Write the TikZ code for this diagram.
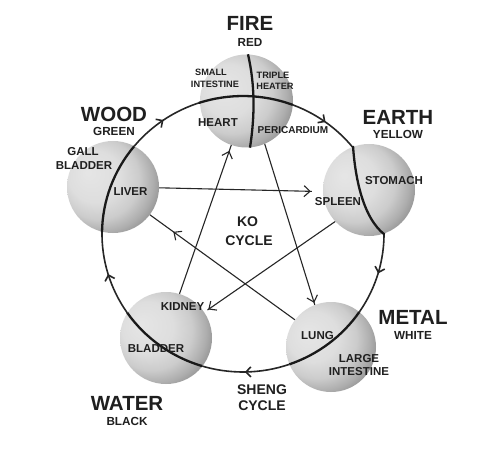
\documentclass[tikz,border=0pt]{standalone}
\usepackage{fontspec}
\setmainfont{Liberation Sans}
\usetikzlibrary{arrows.meta,decorations.markings,calc}
\pgfdeclareradialshading{sphereshade}{\pgfpoint{-14bp}{8bp}}{color(0bp)=(black!10); color(14bp)=(black!13); color(22bp)=(black!20); color(28bp)=(black!32); color(34bp)=(black!48); color(50bp)=(black!48)}
\begin{document}
\begin{tikzpicture}[x=1pt,y=1pt,
 txt/.style={text=black!88, inner sep=0pt},
 elem/.style={txt, font=\fontsize{20.5}{22}\selectfont\bfseries},
 colr/.style={txt, font=\fontsize{11.7}{13}\selectfont\bfseries},
 organ/.style={txt, font=\fontsize{11.5}{13}\selectfont\bfseries},
 smallorgan/.style={txt, font=\fontsize{9.2}{11}\selectfont\bfseries},
 peri/.style={txt, font=\fontsize{10}{12}\selectfont\bfseries},
 cyc/.style={txt, font=\fontsize{14}{16}\selectfont\bfseries},
 sphere/.style={circle, minimum size=#1, inner sep=0pt},
 sheng/.style={line width=1.6pt, draw=black!85, postaction={decorate},
   decoration={markings, mark=at position 0.5 with {\arrow{Straight Barb[length=5pt,width=10pt]}}}},
 ko/.style={line width=1.1pt, draw=black!85, postaction={decorate},
   decoration={markings, mark=at position #1 with {\arrow{Straight Barb[length=6pt,width=11pt]}}}},
 divline/.style={line width=2.3pt, draw=black!90}
]
\useasboundingbox (0,0) rectangle (504,475);
\fill[white] (0,0) rectangle (504,475);
\coordinate (c) at (243,241);

% sphere nodes (positions)
\node[sphere=93pt] (fire)  at (246.5,374) {};
\node[sphere=92pt] (wood)  at (113,288) {};
\node[sphere=92pt] (earth) at (369,285) {};
\node[sphere=90pt] (metal) at (331,128) {};
\node[sphere=92pt] (water) at (166,137) {};

% sheng cycle arcs
\draw[sheng] ([shift={(160:141pt and 138pt)}]c) arc[start angle=160, end angle=89, x radius=141pt, y radius=138pt];
\draw[sheng] ([shift={(89:141pt and 138pt)}]c) arc[start angle=89, end angle=19, x radius=141pt, y radius=138pt];
\draw[sheng] ([shift={(19:141pt and 138pt)}]c) arc[start angle=19, end angle=-52, x radius=141pt, y radius=138pt];
\draw[sheng] ([shift={(-52:141pt and 138pt)}]c) arc[start angle=-52, end angle=-126.5, x radius=141pt, y radius=138pt];
\draw[sheng] ([shift={(-126.5:141pt and 138pt)}]c) arc[start angle=-126.5, end angle=-200, x radius=141pt, y radius=138pt];

% sphere shading
\shade[shading=sphereshade] (fire.center) circle[radius=46.5pt];
\shade[shading=sphereshade] (wood.center) circle[radius=46pt];
\shade[shading=sphereshade] (earth.center) circle[radius=46pt];
\shade[shading=sphereshade] (metal.center) circle[radius=45pt];
\shade[shading=sphereshade] (water.center) circle[radius=46pt];

% thick dividers inside spheres (parts of the big circle)
\draw[divline] ([shift={(69.3:141pt and 138pt)}]c) arc[start angle=69.3, end angle=108.2, x radius=141pt, y radius=138pt];
\draw[divline] ([shift={(140.5:141pt and 138pt)}]c) arc[start angle=140.5, end angle=179.2, x radius=141pt, y radius=138pt];
\draw[divline] (353,329) .. controls (355,300) and (362,258) .. (384.5,240.5);
\draw[divline] ([shift={(-70.8:141pt and 138pt)}]c) arc[start angle=-70.8, end angle=-34.4, x radius=141pt, y radius=138pt];
\draw[divline] ([shift={(-145.2:141pt and 138pt)}]c) arc[start angle=-145.2, end angle=-106.8, x radius=141pt, y radius=138pt];
\draw[divline] (fire.north) ++(1.5,0) .. controls (255,390) and (255,360) .. ([xshift=3.5pt]fire.south);

% ko cycle
\coordinate (k3) at ($(earth.182)!11pt!(wood.-1)$);
\coordinate (k4) at ($(water)!50pt!(water.34)$);
\draw[ko=-2pt] (fire.-67) -- (metal.111);
\draw[ko=-6pt] (water.73) -- (fire.-109);
\draw[ko=-1pt] (wood.-1) -- (k3);
\draw[ko=-1pt] (earth.-137) -- (k4);
\draw[ko=-29pt] (metal.143) -- (wood.-37);

% element labels
\node[elem] (tfire) at (250,452) {FIRE};
\node[colr] (cfire) at (250,433) {RED};
\node[elem] (twood) at (114,361) {WOOD};
\node[colr] (cwood) at (114,343.5) {GREEN};
\node[elem] (tearth) at (398,357.5) {EARTH};
\node[colr] (cearth) at (398,341) {YELLOW};
\node[elem] (tmetal) at (413,158) {METAL};
\node[colr] (cmetal) at (413,140) {WHITE};
\node[elem] (twater) at (127,72) {WATER};
\node[colr] (cwater) at (127,54) {BLACK};

% organ labels
\node[smallorgan] (o1) at (211,403) {SMALL};
\node[smallorgan] (o2) at (215,391) {INTESTINE};
\node[smallorgan] (o3) at (273,400) {TRIPLE};
\node[smallorgan] (o4) at (275,389) {HEATER};
\node[organ] (o5) at (218,352) {HEART};
\node[peri] (o6) at (293,344.5) {PERICARDIUM};
\node[organ] (o7) at (83,323) {GALL};
\node[organ] (o8) at (84,309) {BLADDER};
\node[organ] (o9) at (130.5,283.5) {LIVER};
\node[organ] (o10) at (394,294.5) {STOMACH};
\node[organ] (o11) at (338,273.5) {SPLEEN};
\node[organ] (o12) at (317.5,139) {LUNG};
\node[organ] (o13) at (359,116) {LARGE};
\node[organ] (o14) at (359,103) {INTESTINE};
\node[organ] (o15) at (182.5,168) {KIDNEY};
\node[organ] (o16) at (156,126) {BLADDER};

% cycle labels
\node[cyc] (ko1) at (247.5,253) {KO};
\node[cyc] (ko2) at (249,234) {CYCLE};
\node[cyc] (sh1) at (262,85) {SHENG};
\node[cyc] (sh2) at (262,69) {CYCLE};
\end{tikzpicture}
\end{document}
